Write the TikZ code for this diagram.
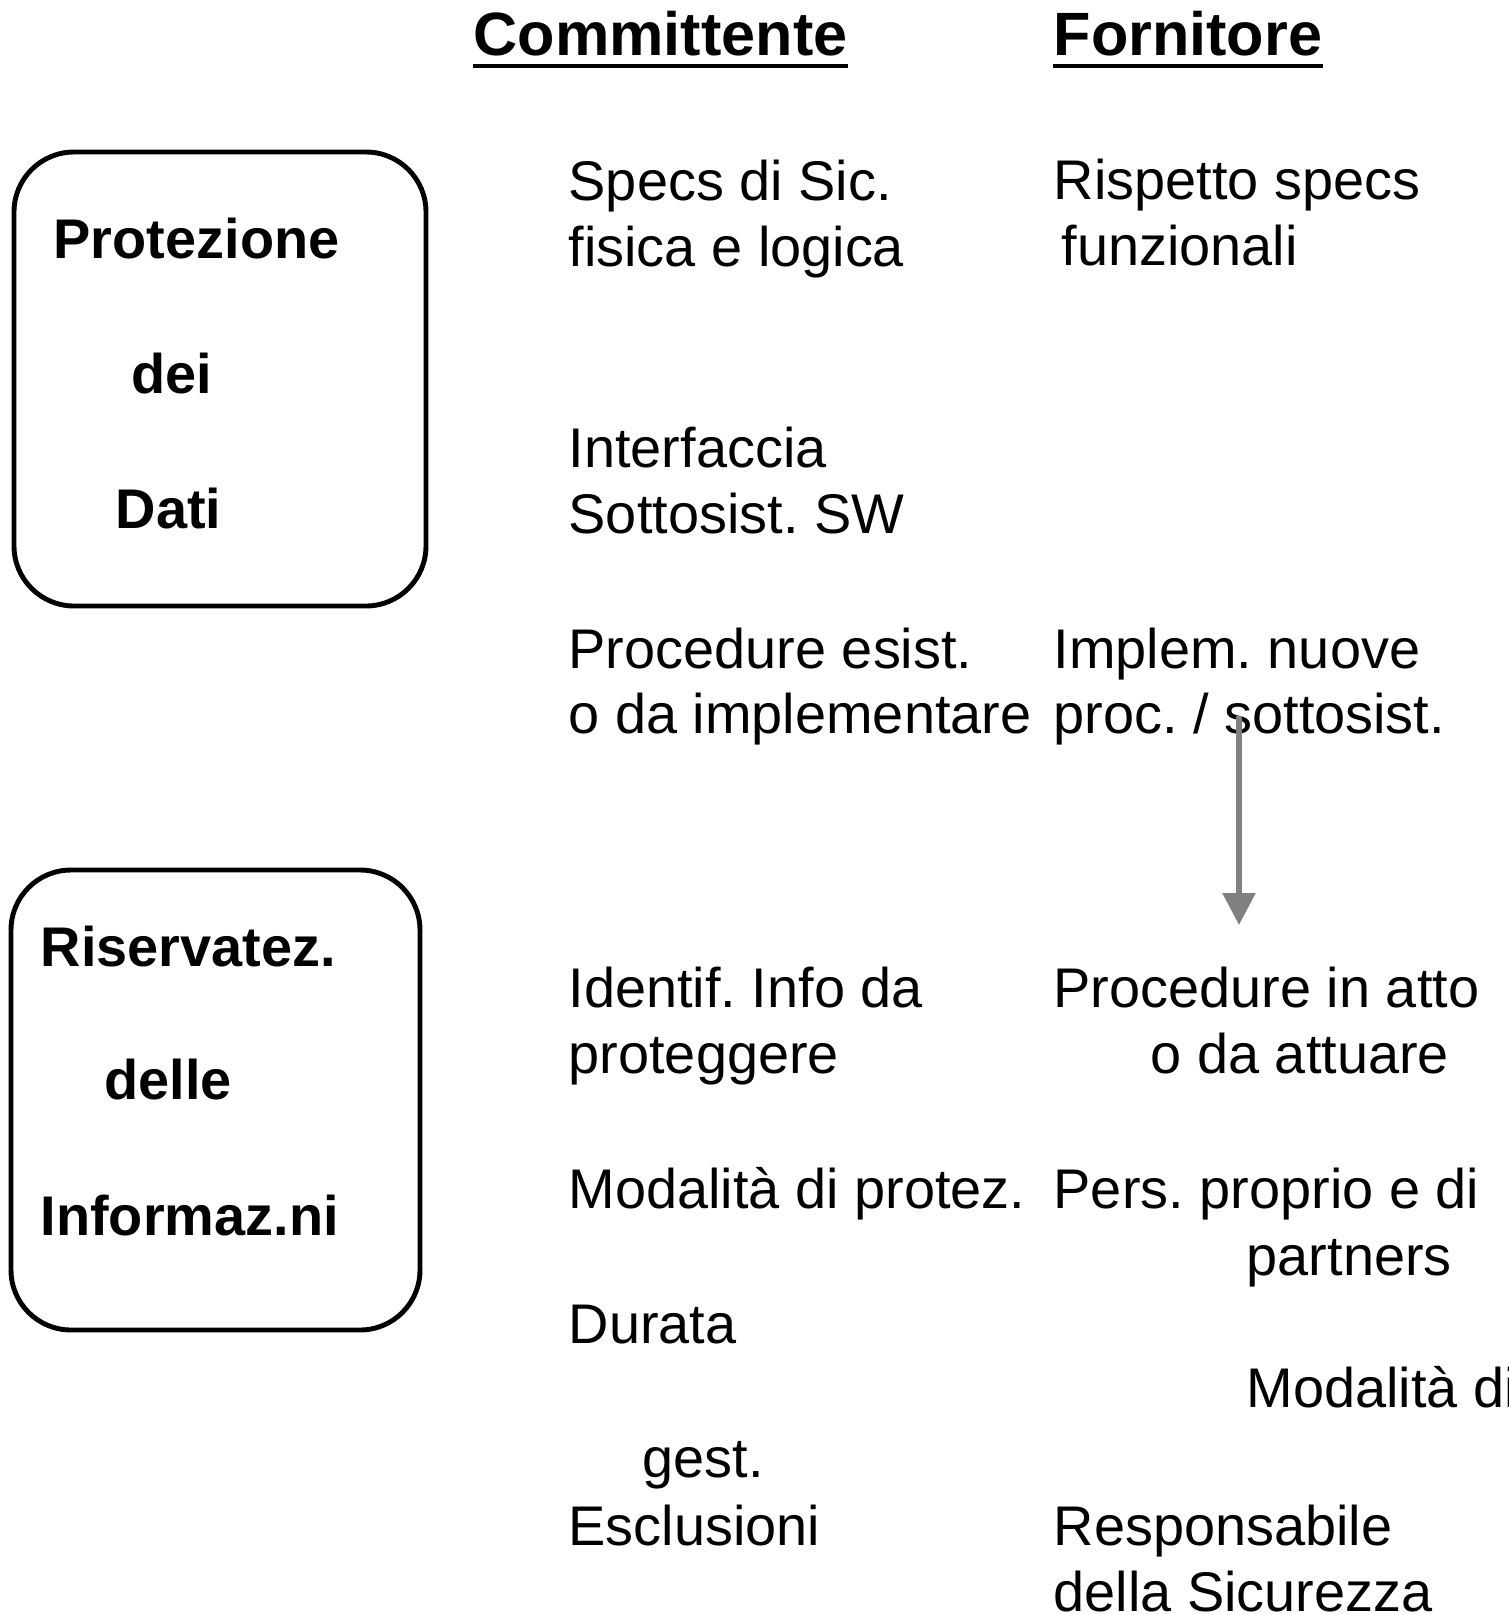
\documentclass[tikz,border=0pt]{standalone}
\usepackage{fontspec}
\setmainfont{Liberation Sans}
\usetikzlibrary{arrows.meta}
\frenchspacing

\begin{document}
\begin{tikzpicture}[x=0.1mm, y=-0.1mm,
    txt/.style={anchor=base west, inner sep=0pt, font=\fontsize{15.9}{19}\selectfont},
    boxtxt/.style={anchor=base west, inner sep=0pt, font=\fontsize{15.9}{19}\selectfont\bfseries},
    head/.style={anchor=base west, inner sep=0pt, font=\fontsize{17.4}{20}\selectfont\bfseries},
    frame/.style={draw, line width=1.4pt, rounded corners=0.6cm},
    link/.style={draw=gray, line width=1.6pt, -{Triangle[length=0.32cm, width=0.32cm]}}]
    \clip (0,0) rectangle (1509,1615);

    % column titles
    \node [head] (comm) at (473,55) {Committente};
    \node [head] (forn) at (1053,55) {Fornitore};
    \draw [line width=1.4pt] ([yshift=-0.11cm]comm.base west) -- ([yshift=-0.11cm]comm.base east);
    \draw [line width=1.4pt] ([yshift=-0.11cm]forn.base west) -- ([yshift=-0.11cm]forn.base east);

    % left boxes
    \node [frame, minimum width=4.12cm, minimum height=4.54cm] (protbox) at (220,379) {};
    \node [boxtxt] (prot) at (53,258) {Protezione};
    \node [boxtxt] (dei) at (131,393) {dei};
    \node [boxtxt] (dati) at (115,528) {Dati};

    \node [frame, minimum width=4.09cm, minimum height=4.6cm] (risbox) at (215.5,1100) {};
    \node [boxtxt] (ris) at (40,966) {Riservatez.};
    \node [boxtxt] (delle) at (104,1099) {delle};
    \node [boxtxt] (inf) at (40,1235) {Informaz.ni};

    % committente
    \node [txt] (specs) at (568,200) {Specs di Sic.};
    \node [txt] (fisica) at (568,266) {fisica e logica};
    \node [txt] (interf) at (568,467) {Interfaccia};
    \node [txt] (sottosw) at (568,533) {Sottosist. SW};
    \node [txt] (procesist) at (568,668) {Procedure esist.};
    \node [txt] (odaimpl) at (568,733) {o da implementare};
    \node [txt] (identif) at (568,1007) {Identif. Info da};
    \node [txt] (proteg) at (568,1073) {proteggere};
    \node [txt] (modprot) at (568,1208) {Modalità di protez.};
    \node [txt] (durata) at (568,1343) {Durata};
    \node [txt] (gest) at (642,1477) {gest.};
    \node [txt] (escl) at (568,1545) {Esclusioni};

    % fornitore
    \node [txt] (risp) at (1053,199) {Rispetto specs};
    \node [txt] (funz) at (1061,265) {funzionali};
    \node [txt] (implem) at (1053,668) {Implem. nuove};
    \node [txt] (procsott) at (1053,733) {proc. / sottosist.};
    \node [txt] (procatto) at (1053,1007) {Procedure in atto};
    \node [txt] (attuare) at (1150,1073) {o da attuare};
    \node [txt] (pers) at (1053,1208) {Pers. proprio e di};
    \node [txt] (partners) at (1246,1275) {partners};
    \node [txt] (modgest) at (1246,1407) {Modalità di};
    \node [txt] (resp) at (1053,1545) {Responsabile};
    \node [txt] (sicur) at (1053,1611) {della Sicurezza};

    \coordinate (arrfrom) at (1239,716);
    \coordinate (arrto) at (1239,925);
    \draw [link] (arrfrom) -- (arrto);
\end{tikzpicture}
\end{document}
